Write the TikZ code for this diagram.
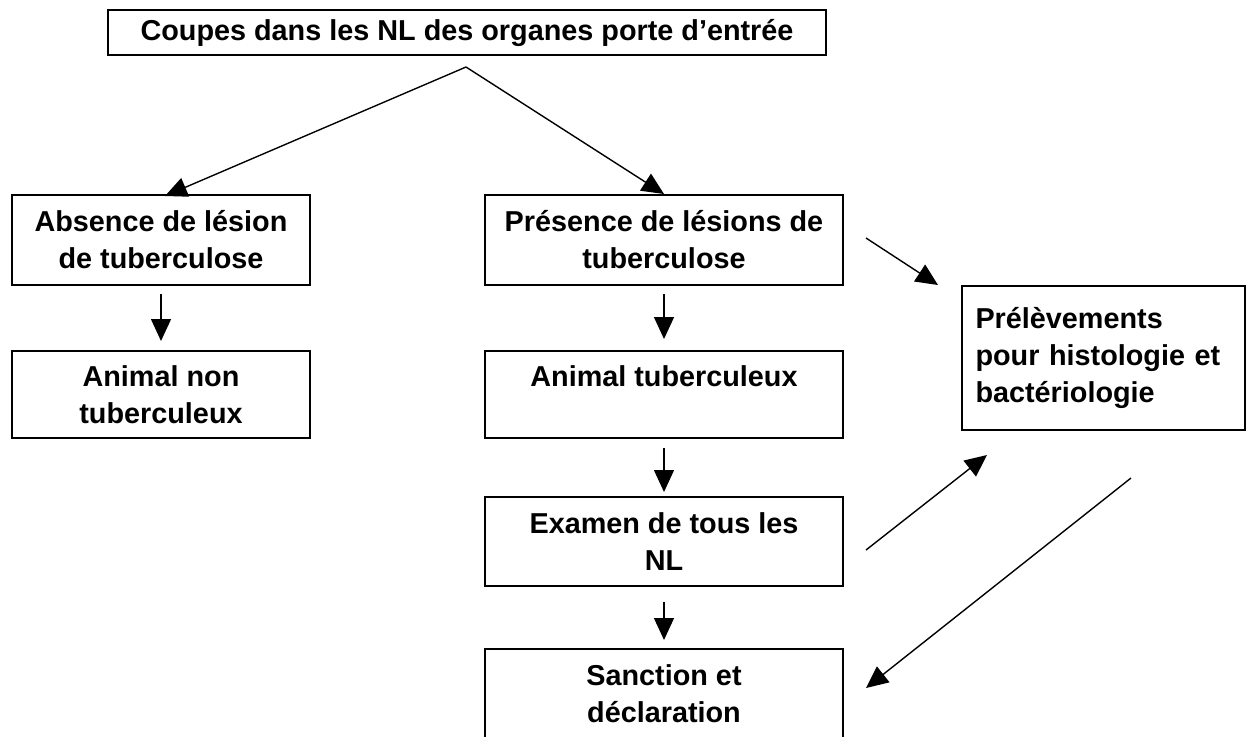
\documentclass[tikz,border=0pt]{standalone}
\usepackage{fontspec}
\setmainfont{Liberation Sans}
\usetikzlibrary{arrows.meta,positioning}
\tikzset{
  etape/.style={draw,line width=1pt,align=center,inner sep=0pt,
    font=\fontsize{14.4pt}{18.5pt}\selectfont\bfseries},
  fleche/.style={-{Triangle[length=11pt,width=10pt]},line width=0.7pt},
}

\begin{document}
\begin{tikzpicture}[x=0.5pt,y=-0.5pt]
      \useasboundingbox (0,0) rectangle (1249,736);
      \node[etape,minimum width=359pt,minimum height=22.5pt] (coupes) at (467,32.5) {Coupes dans les NL des organes porte d’entrée};
      \node[etape,minimum width=149pt,minimum height=45pt] (absence) at (161,240) {Absence de lésion\\de tuberculose};
      \node[etape,minimum width=149pt,minimum height=43.5pt] (nontub) at (161,394.5) {Animal non\\tuberculeux};
      \node[etape,minimum width=179pt,minimum height=45pt] (presence) at (664,240) {Présence de lésions de\\tuberculose};
      \node[etape,minimum width=179pt,minimum height=43.5pt] (tub) at (664,394.5) {Animal tuberculeux\\\mbox{}};
      \node[etape,minimum width=179pt,minimum height=44.5pt] (examen) at (664,541.5) {Examen de tous les\\NL};
      \node[etape,minimum width=179pt,minimum height=45pt] (sanction) at (664,694) {Sanction et\\déclaration};
      \node[etape,minimum width=141.5pt,minimum height=72pt,text width=128pt,align=left] (prelev) at (1103.5,358) {Prélèvements\\pour histologie et\\bactériologie};
      % points libres des fleches
      \coordinate (sommet) at (466,67);
      \coordinate (vabsence) at (165,196);
      \coordinate (d1) at (866,238);
      \coordinate (f1) at (938,285);
      \coordinate (d2) at (866,550);
      \coordinate (f2) at (987,455);
      \coordinate (d3) at (1131,478);
      \coordinate (f3) at (866,688);
      \draw[fleche] (sommet) -- (vabsence);
      \draw[fleche] (sommet) -- (presence.north);
      \draw[fleche,shorten <=4pt,shorten >=4.5pt] (absence) -- (nontub);
      \draw[fleche,shorten <=4pt,shorten >=5.5pt] (presence) -- (tub);
      \draw[fleche,shorten <=4.5pt,shorten >=2pt] (tub) -- (examen);
      \draw[fleche,shorten <=7.5pt,shorten >=4pt] (examen) -- (sanction);
      \draw[fleche] (d1) -- (f1);
      \draw[fleche] (d2) -- (f2);
      \draw[fleche] (d3) -- (f3);
    \end{tikzpicture}
\end{document}
